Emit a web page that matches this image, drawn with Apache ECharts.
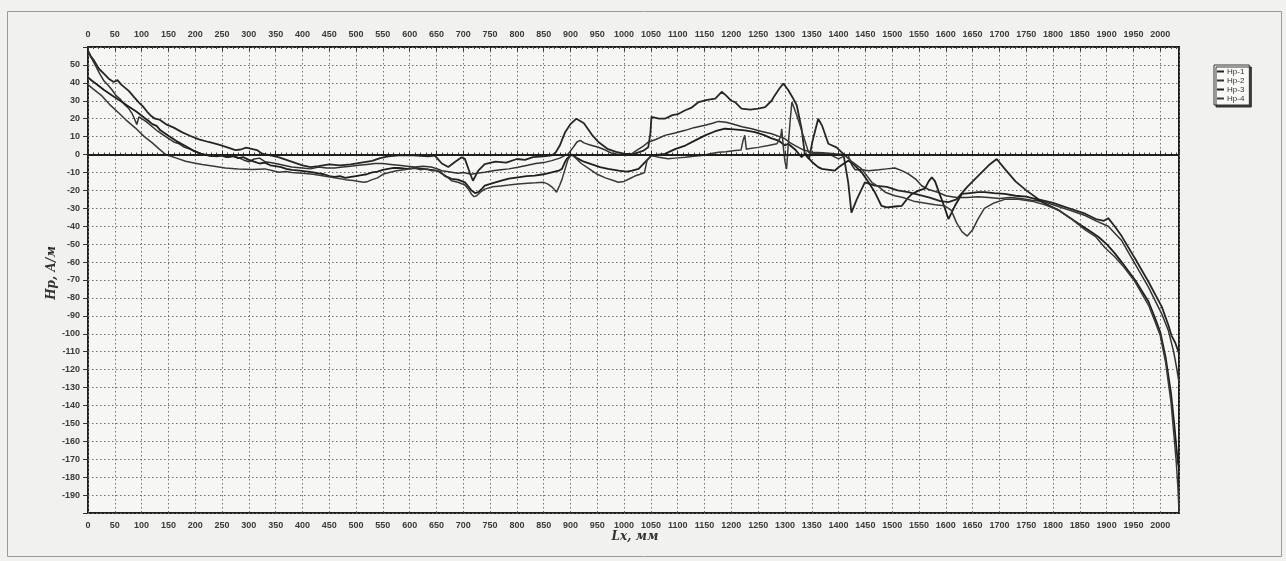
<!DOCTYPE html>
<html>
<head>
<meta charset="utf-8">
<script src="https://cdn.jsdelivr.net/npm/echarts@6/dist/echarts.min.js"></script>
<style>
html,body{margin:0;padding:0;background:#f1f1ef;}
#chart{width:1286px;height:561px;}
</style>
</head>
<body>
<div id="chart"></div>
<script>
// ---- Data ----
const seriesNames = ['Нр-1', 'Нр-2', 'Нр-3', 'Нр-4'];
const xAxisTitle = 'Lx, мм';
const yAxisTitle = 'Нр, А/м';

const hp1 = [[0,58],[5,55],[10,53],[20,48],[30,45],[40,42],[48,40.5],[55,41.5],[62,39],[76,35.5],[86,32],[95,29],[102,27],[110,24],[118,21.5],[125,20],[133,19.5],[145,17],[160,15],[175,12.5],[190,10.5],[207,8.5],[225,7],[244,5.5],[260,4],[275,2.5],[285,2.8],[295,3.8],[305,3.2],[315,2.5],[325,0.5],[340,-0.5],[355,-1.5],[370,-3],[385,-4.5],[400,-6],[415,-7],[430,-6.5],[450,-5.5],[470,-6],[490,-5.5],[510,-4.5],[530,-3.5],[545,-2],[560,-1],[580,-0.5],[600,-0.3],[620,-0.8],[635,-1],[647,-0.6],[660,-5],[672,-7],[685,-4],[697,-1.5],[703,-2.4],[712,-10],[718,-14.6],[728,-9],[740,-5.3],[760,-4],[780,-4.5],[800,-2.5],[815,-3],[830,-1.5],[850,-1],[865,-0.5],[872,1],[880,5],[890,12.5],[900,17],[911,20],[925,17.5],[940,11],[952,7],[970,3],[985,1.5],[1002,0.4],[1020,0.5],[1035,2],[1045,4],[1049,12],[1051,21],[1065,20],[1076,20],[1090,22],[1100,22.5],[1114,24.7],[1125,26],[1139,29.3],[1155,30.5],[1170,31.2],[1182,35],[1190,33],[1200,30],[1207,29.3],[1219,25.6],[1235,25],[1250,25.6],[1263,26.5],[1275,30],[1281,33],[1290,37],[1297,39.6],[1306,36],[1314,32],[1322,27.5],[1331,14.4],[1337,0.4],[1345,-2.4],[1351,7],[1362,20],[1369,16.3],[1381,6],[1396,4],[1409,0.4],[1418,-15.5],[1424,-32.4],[1434,-25],[1449,-15.5],[1468,-17.4],[1490,-18],[1510,-20],[1530,-21],[1550,-22.5],[1570,-24],[1590,-26],[1605,-26.5],[1620,-25],[1640,-18],[1660,-12],[1680,-6],[1695,-2.5],[1710,-8],[1730,-15],[1750,-20],[1773,-25],[1800,-27],[1830,-30],[1860,-33],[1880,-36],[1895,-37],[1903,-35.5],[1915,-40],[1928,-45.5],[1953,-58],[1978,-71],[2003,-85],[2015,-95],[2021,-101],[2028,-105],[2031,-104],[2035,-111]];

const hp2 = [[0,57],[8,53],[15,49],[22,45],[30,41],[38,38.5],[45,36],[52,33],[60,31],[68,28],[75,26],[82,23],[88,19],[91,16.8],[95,21],[100,20],[108,18.5],[120,15.5],[130,13],[140,11],[150,9],[160,7],[170,6],[180,4],[190,3],[200,1.5],[215,0],[230,-1],[245,-0.5],[260,-1.5],[275,-1],[290,-3],[300,-4],[310,-2.5],[320,-2],[330,-4],[340,-4.5],[350,-5],[365,-6],[380,-7],[400,-7.5],[415,-8],[430,-7],[445,-7.5],[460,-7.5],[475,-7],[490,-6.5],[505,-6],[520,-5.5],[535,-5],[550,-5],[565,-5.5],[580,-6],[595,-6.5],[610,-7],[625,-6.5],[640,-7],[652,-8],[660,-9],[670,-9.5],[678,-9.9],[690,-10.5],[700,-10],[715,-11],[725,-10.5],[740,-9.9],[755,-9],[770,-8.5],[785,-8],[802,-7.1],[820,-6],[835,-5],[850,-4.5],[865,-3.4],[880,-2],[890,-0.5],[896,0.4],[905,4],[912,7],[918,7.9],[925,6.5],[935,5.5],[952,4.1],[965,2.5],[975,1],[990,0],[1002,-0.6],[1012,0],[1022,2],[1035,4.5],[1045,6.9],[1060,8.5],[1076,10.7],[1095,12],[1114,13.5],[1130,15],[1151,16.3],[1165,17.5],[1176,18.5],[1190,18],[1201,17.2],[1220,15.5],[1238,14.4],[1255,13],[1275,11.6],[1290,10],[1300,8.8],[1310,6.5],[1319,5],[1335,2.5],[1350,1.3],[1370,1],[1393,0.4],[1410,0],[1418,-0.6],[1425,-6],[1431,-8.5],[1445,-8.5],[1456,-9],[1475,-8.5],[1490,-8],[1505,-7.5],[1518,-9],[1530,-10.8],[1545,-14],[1555,-17.4],[1568,-19.5],[1585,-21],[1600,-23],[1620,-24],[1640,-24],[1660,-23.5],[1680,-24],[1700,-24.5],[1720,-24],[1740,-24.5],[1760,-25.5],[1780,-26],[1800,-28],[1830,-31],[1860,-34],[1880,-37],[1903,-40],[1928,-48],[1953,-61],[1978,-74],[2003,-89],[2015,-98],[2025,-110],[2030,-118],[2035,-127]];

const hp3 = [[0,43],[8,41],[15,39.5],[30,36],[45,33],[60,30],[75,27],[90,24],[105,20.5],[112,19],[120,17],[128,16],[135,13.5],[150,10.5],[165,7.5],[180,5],[195,2.5],[210,0.5],[225,-0.5],[240,-1],[250,-0.5],[260,-1.5],[270,-0.8],[280,-2],[290,-1.5],[300,-3],[310,-4],[320,-5],[330,-4.5],[340,-6],[350,-6.5],[360,-7],[370,-8],[380,-8.5],[395,-9],[410,-9.5],[420,-10],[430,-10.5],[440,-11],[450,-12],[460,-12.5],[470,-12],[480,-13],[490,-12.5],[500,-12],[510,-11.5],[520,-11],[530,-10],[540,-9.5],[550,-8.5],[560,-8],[570,-7.5],[580,-7.5],[595,-8],[610,-7.5],[625,-8],[640,-8.5],[652,-9],[662,-11],[670,-12.5],[678,-13.6],[690,-14],[703,-15.5],[710,-18],[715,-20],[722,-21.5],[728,-21],[735,-19],[740,-17.4],[755,-16],[771,-14.6],[785,-13.5],[802,-12.7],[818,-12],[833,-11.8],[850,-11],[865,-9.9],[878,-9],[884,-8],[890,-4],[893,-2.4],[902,0],[912,-2],[925,-4],[940,-5.5],[955,-7],[970,-8],[990,-9],[1005,-9.5],[1015,-9],[1027,-8],[1040,-4],[1051,-0.6],[1064,0],[1076,0.4],[1095,3],[1114,5],[1130,7.5],[1151,10.7],[1170,13],[1188,14.4],[1205,14],[1225,13.5],[1244,12.5],[1260,11],[1275,9],[1288,7.8],[1300,5],[1306,6],[1320,2.5],[1331,-1.5],[1337,0.4],[1350,-4],[1362,-7],[1369,-8],[1382,-8.5],[1393,-9],[1400,-7.1],[1410,-5],[1418,-3.4],[1430,-6],[1443,-9.9],[1455,-15],[1468,-21.2],[1480,-28.6],[1490,-29.5],[1505,-29],[1518,-28.6],[1530,-24],[1537,-22],[1550,-20],[1561,-19],[1568,-15],[1574,-12.7],[1580,-15],[1586,-20],[1596,-28],[1605,-36],[1610,-33],[1617,-28.6],[1630,-22],[1645,-21.5],[1660,-21],[1673,-21],[1690,-21.5],[1710,-22],[1730,-23],[1750,-23.5],[1770,-25],[1790,-28],[1810,-31],[1830,-35],[1850,-39],[1870,-43],[1885,-46],[1900,-50],[1915,-55],[1928,-60],[1953,-70],[1978,-82],[1990,-91],[2000,-99],[2010,-113],[2020,-133],[2026,-150],[2030,-163],[2033,-172],[2035,-175]];

const hp4 = [[0,39],[10,36.5],[26,32.7],[40,28],[57,23.3],[70,19.5],[88,14.9],[105,10],[120,6.5],[133,3],[145,0],[155,-1],[165,-2],[182,-3.7],[200,-4.8],[213,-5.6],[235,-6.5],[256,-7.5],[280,-8],[306,-8.4],[330,-8],[345,-9],[356,-9.9],[370,-9.5],[380,-10],[400,-10.5],[420,-11],[440,-12],[460,-13],[480,-14],[495,-14.5],[505,-15],[515,-15.5],[522,-15],[530,-14],[540,-13],[550,-11],[562,-10],[575,-9],[590,-8.5],[600,-8],[610,-7.5],[620,-8.5],[632,-8],[640,-9],[650,-9],[658,-9.5],[665,-12],[672,-13],[678,-14.6],[690,-15.5],[703,-17],[710,-19.5],[715,-22],[720,-23.5],[725,-23],[732,-21],[740,-19.3],[755,-18],[770,-17.5],[785,-17],[802,-16.4],[820,-16],[835,-15.8],[850,-15.5],[858,-16.5],[865,-18],[870,-19.5],[874,-21],[880,-17],[884,-14],[890,-8],[895,-3],[902,0],[910,-2],[920,-5],[935,-8],[950,-11],[965,-13],[980,-14.5],[989,-15.5],[1000,-15],[1010,-13.5],[1020,-12],[1030,-11],[1038,-10],[1043,-3],[1051,-0.6],[1065,-1.5],[1082,-2.4],[1095,-2],[1114,-1.5],[1130,-1],[1145,-0.6],[1160,0.5],[1176,1.3],[1190,1.5],[1207,2.2],[1218,2.5],[1222,8],[1225,10.7],[1228,3],[1232,3.2],[1250,4],[1269,5],[1285,6],[1292,10],[1294,14.4],[1297,4],[1300,-4],[1303,-8.1],[1306,5],[1310,20],[1313,29.3],[1322,21.9],[1334,10.7],[1344,1.3],[1356,0.4],[1370,0.5],[1381,0.4],[1400,-2.4],[1412,-0.6],[1425,-4],[1443,-8],[1462,-15.5],[1475,-18],[1487,-21],[1505,-23],[1520,-24],[1540,-26],[1560,-27],[1580,-28],[1598,-28.6],[1610,-31],[1620,-38],[1630,-43],[1640,-45.5],[1650,-42],[1660,-36],[1672,-30],[1690,-27],[1710,-25],[1735,-25],[1760,-26],[1785,-28],[1810,-31],[1835,-36],[1860,-42],[1880,-46],[1897,-52],[1915,-57],[1930,-62],[1953,-71],[1978,-84],[1990,-93],[2000,-101],[2010,-116],[2020,-138],[2026,-158],[2030,-172],[2033,-186],[2035,-199]];

const xMin = 0, xMax = 2035, xStep = 50;
const yMin = -200, yMax = 60, yStep = 10;
const zeroLevel = 0;

// ---- Chart ----
const chart = echarts.init(document.getElementById('chart'), null, {renderer: 'canvas'});
const lab = {fontFamily: 'Liberation Sans, Arial, sans-serif', fontSize: 9, fontWeight: 'bold', color: '#3a3a3a'};
const gridLine = {show: true, lineStyle: {color: '#707070', width: 1, type: [1.5, 2.5]}};
const xFmt = v => (v % xStep === 0 && v <= 2000) ? String(v) : '';
const yFmt = v => (v % yStep === 0 && v > yMin && v < yMax) ? String(v) : '';

const xAxisCommon = {
  type: 'value', min: xMin, max: xMax, interval: xStep,
  axisLine: {show: false},
  axisTick: {show: true, inside: true, length: 4, lineStyle: {color: '#333'}},
  minorTick: {show: true, splitNumber: 5, length: 2, lineStyle: {color: '#444'}},
  splitLine: gridLine,
  axisLabel: Object.assign({margin: 8, formatter: xFmt}, lab)
};

const lineColors = ['#262626', '#333333', '#1f1f1f', '#3a3a3a'];
const lineWidths = [1.8, 1.5, 1.8, 1.5];
const dataSets = [hp1, hp2, hp3, hp4];

const series = dataSets.map((d, i) => ({
  name: seriesNames[i], type: 'line', data: d, xAxisIndex: 0, yAxisIndex: 0,
  showSymbol: false, symbol: 'none', smooth: false,
  lineStyle: {color: lineColors[i], width: lineWidths[i]},
  itemStyle: {color: lineColors[i]},
  z: 3
}));
series[0].markLine = {
  silent: true, symbol: ['none', 'none'], label: {show: false},
  lineStyle: {color: '#1e1e1e', width: 2, type: 'solid'},
  data: [{yAxis: zeroLevel}], animation: false
};

chart.setOption({
  animation: false,
  backgroundColor: '#f1f1ef',
  grid: {left: 88, right: 107, top: 47, bottom: 48, show: true, borderColor: '#1e1e1e', borderWidth: 2, backgroundColor: '#f6f6f4', containLabel: false},
  xAxis: [
    Object.assign({position: 'bottom'}, xAxisCommon),
    Object.assign({position: 'top'}, xAxisCommon, {splitLine: {show: false}})
  ],
  yAxis: {
    type: 'value', min: yMin, max: yMax, interval: yStep,
    axisLine: {show: false},
    axisTick: {show: true, inside: false, length: 5, lineStyle: {color: '#333'}},
    splitLine: gridLine,
    axisLabel: Object.assign({margin: 8, formatter: yFmt}, lab)
  },
  legend: {
    data: seriesNames, orient: 'vertical', left: 1214, top: 65,
    icon: 'rect', itemWidth: 7, itemHeight: 2, itemGap: 0,
    padding: [2, 5, 2, 3],
    borderColor: '#333', borderWidth: 1, backgroundColor: '#f8f8f6',
    shadowColor: 'rgba(40,40,40,0.9)', shadowOffsetX: 2, shadowOffsetY: 2, shadowBlur: 0,
    textStyle: {fontFamily: 'Liberation Sans, Arial, sans-serif', fontSize: 8, color: '#333', lineHeight: 9, padding: [0, 0, 0, -2]},
    selectedMode: false
  },
  graphic: [
    {type: 'rect', shape: {x: 7.5, y: 11.5, width: 1274, height: 545}, style: {fill: 'none', stroke: '#9a9a9a', lineWidth: 1}, silent: true, z: -1},
    {type: 'text', x: 52, y: 273, rotation: Math.PI / 2, style: {text: yAxisTitle, font: 'italic bold 12px "DejaVu Serif", "Liberation Serif", serif', fill: '#333', align: 'center', verticalAlign: 'middle'}},
    {type: 'text', x: 635, y: 537, style: {text: xAxisTitle, font: 'italic bold 12px "DejaVu Serif", "Liberation Serif", serif', fill: '#333', align: 'center', verticalAlign: 'middle'}}
  ],
  series: series
});
</script>
</body>
</html>
